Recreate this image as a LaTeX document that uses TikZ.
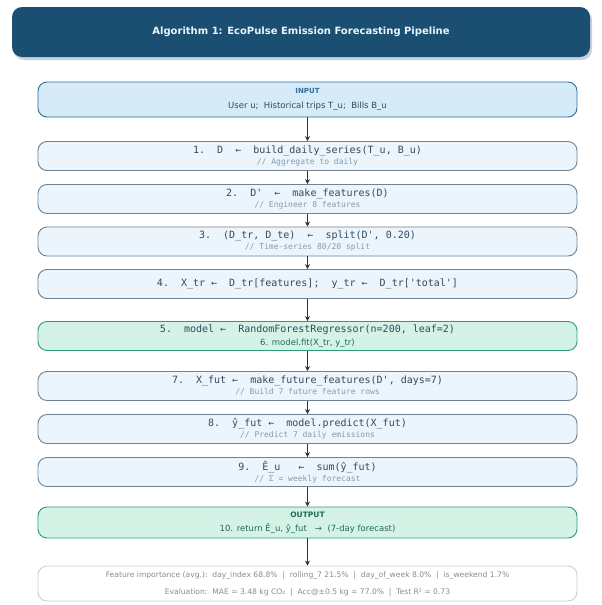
\documentclass[tikz,border=0pt]{standalone}
\usepackage{fontspec}
\setmainfont{DejaVu Sans}
\setsansfont{DejaVu Sans}
\setmonofont{DejaVu Sans Mono}
\usetikzlibrary{arrows.meta}
\definecolor{titlebg}{HTML}{1B4F72}
\definecolor{titlefg}{HTML}{EAF4FB}
\definecolor{inpfill}{HTML}{D6EAF8}
\definecolor{inpline}{HTML}{2E6E9E}
\definecolor{stepfill}{HTML}{EBF5FB}
\definecolor{stepline}{HTML}{6E8496}
\definecolor{grnfill}{HTML}{D4F3E6}
\definecolor{grnline}{HTML}{2A9D76}
\definecolor{grntext}{HTML}{1E6B52}
\definecolor{maintext}{HTML}{34495E}
\definecolor{commtext}{HTML}{8A9AA8}
\definecolor{foottext}{HTML}{8C8C8C}
\definecolor{footline}{HTML}{CFCFCF}
\definecolor{arrowc}{HTML}{333333}
\definecolor{shadowc}{HTML}{C8D3DC}
\tikzset{
  boxbase/.style={rectangle, rounded corners=9pt, minimum width=539pt, inner sep=0pt, align=center, line width=0.9pt},
  stepbox/.style={boxbase, draw=stepline, fill=stepfill, minimum height=29pt},
  inpbox/.style={boxbase, draw=inpline, fill=inpfill, minimum height=35pt},
  grnbox/.style={boxbase, draw=grnline, fill=grnfill, minimum height=29pt},
  footbox/.style={boxbase, draw=footline, fill=white, minimum height=35pt},
  titlebox/.style={rectangle, rounded corners=10pt, fill=titlebg, minimum width=578pt, minimum height=50pt, text=titlefg, font=\fontsize{10}{12}\selectfont\bfseries},
  flow/.style={draw=arrowc, line width=1.1pt, -{Stealth[length=5pt,width=5pt]}}
}
\newcommand{\mainf}{\color{maintext}\ttfamily\fontsize{10}{11.5}\selectfont}
\newcommand{\commf}{\color{commtext}\ttfamily\fontsize{8}{9}\selectfont}
\newcommand{\sansf}{\color{maintext}\sffamily\fontsize{8.5}{10}\selectfont}
\begin{document}
\begin{tikzpicture}[x=1pt,y=-1pt]
\useasboundingbox (0,0) rectangle (602,605);
\fill[white] (0,0) rectangle (602,605);
\fill[shadowc, rounded corners=10pt] (14,10) rectangle (592,60);
\node[titlebox] (title) at (301,32) {Algorithm 1: EcoPulse Emission Forecasting Pipeline};

\node[inpbox] (inp) at (307.5,99.5) {{\color{inpline}\sffamily\bfseries\fontsize{7}{8}\selectfont INPUT}\\[3pt]{\sansf User u;~~Historical trips T\_u;~~Bills B\_u}};

\node[stepbox] (s1) at (307.5,156) {{\mainf 1.~~D~~←~~build\_daily\_series(T\_u, B\_u)}\\[-1pt]{\commf // Aggregate to daily}};
\node[stepbox] (s2) at (307.5,199) {{\mainf 2.~~D'~~←~~make\_features(D)}\\[-1pt]{\commf // Engineer 8 features}};
\node[stepbox] (s3) at (307.5,241.5) {{\mainf 3.~~(D\_tr, D\_te)~~←~~split(D', 0.20)}\\[-1pt]{\commf // Time-series 80/20 split}};
\node[stepbox] (s4) at (307.5,284) {{\mainf 4.~~X\_tr ←~~D\_tr[features];~~y\_tr ←~~D\_tr['total']}};
\node[grnbox] (s5) at (307.5,336) {{\mainf 5.~~model ←~~RandomForestRegressor(n=200, leaf=2)}\\[1pt]{\color{grntext}\sffamily\fontsize{8.5}{10}\selectfont 6. model.fit(X\_tr, y\_tr)}};
\node[stepbox] (s7) at (307.5,386) {{\mainf 7.~~X\_fut ←~~make\_future\_features(D', days=7)}\\[-1pt]{\commf // Build 7 future feature rows}};
\node[stepbox] (s8) at (307.5,429) {{\mainf 8.~~ŷ\_fut ←~~model.predict(X\_fut)}\\[-1pt]{\commf // Predict 7 daily emissions}};
\node[stepbox] (s9) at (307.5,472) {{\mainf 9.~~Ê\_u~~~←~~sum(ŷ\_fut)}\\[-1pt]{\commf // Σ = weekly forecast}};
\node[grnbox, minimum height=31pt] (out) at (307.5,522.5) {{\color{grntext}\sffamily\bfseries\fontsize{7.5}{9}\selectfont OUTPUT}\\[2pt]{\color{grntext}\sffamily\fontsize{8.5}{10}\selectfont 10. return Ê\_u, ŷ\_fut~~~→~~(7-day forecast)}};

\node[footbox] (foot) at (307.5,583.5) {{\color{foottext}\sffamily\fontsize{7.6}{9}\selectfont Feature importance (avg.):~~day\_index 68.8\%~~|~~rolling\_7 21.5\%~~|~~day\_of\_week 8.0\%~~|~~is\_weekend 1.7\%}\\[5pt]{\color{foottext}\sffamily\fontsize{7.6}{9}\selectfont Evaluation:~~MAE = 3.48 kg CO₂~~|~~Acc@±0.5 kg = 77.0\%~~|~~Test R² = 0.73}};

\draw[flow] (inp.south) -- (s1.north);
\draw[flow] (s1.south) -- (s2.north);
\draw[flow] (s2.south) -- (s3.north);
\draw[flow] (s3.south) -- (s4.north);
\draw[flow] (s4.south) -- (s5.north);
\draw[flow] (s5.south) -- (s7.north);
\draw[flow] (s7.south) -- (s8.north);
\draw[flow] (s8.south) -- (s9.north);
\draw[flow] (s9.south) -- (out.north);
\draw[flow] (out.south) -- (foot.north);
\end{tikzpicture}
\end{document}
